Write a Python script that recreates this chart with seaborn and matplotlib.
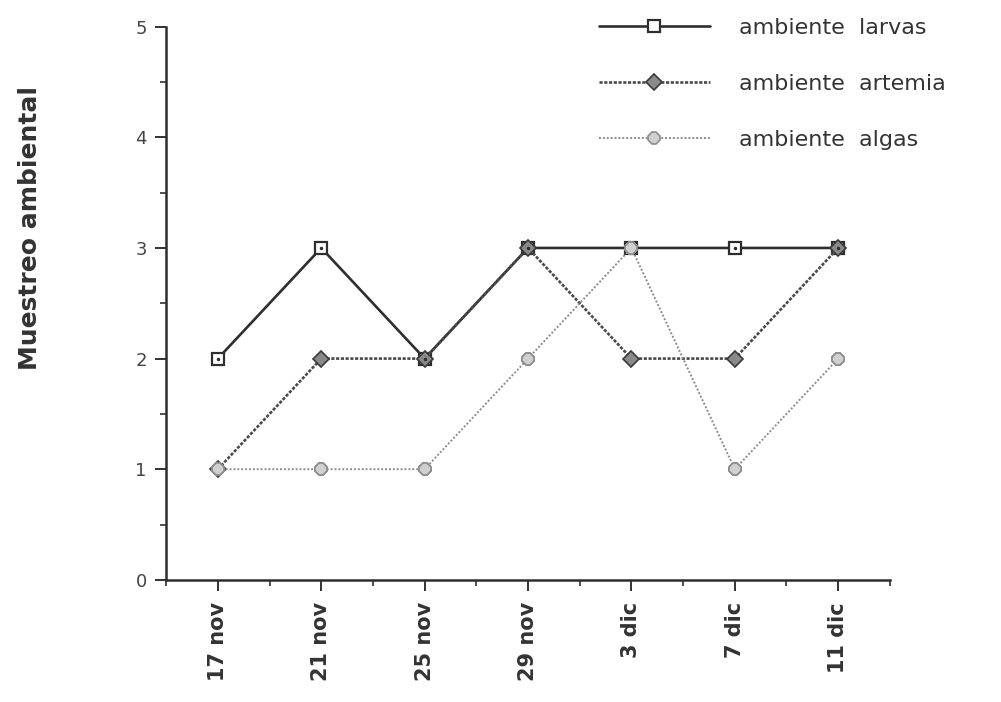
import numpy as np
import pandas as pd
import seaborn as sns
import matplotlib.pyplot as plt
from matplotlib.ticker import MultipleLocator, FixedLocator

# Fechas de muestreo y valores de cada serie
fechas = ['17 nov', '21 nov', '25 nov', '29 nov', '3 dic', '7 dic', '11 dic']
larvas = [2, 3, 2, 3, 3, 3, 3]
artemia = [1, 2, 2, 3, 2, 2, 3]
algas = [1, 1, 1, 2, 3, 1, 2]
series = ['ambiente  larvas', 'ambiente  artemia', 'ambiente  algas']

df = pd.DataFrame({'pos': range(len(fechas)),
                   series[0]: larvas, series[1]: artemia, series[2]: algas})
long = df.melt(id_vars='pos', var_name='serie', value_name='valor')

sns.set_style('ticks')
plt.rcParams['font.family'] = ['DejaVu Sans']

fig = plt.figure(figsize=(10.01, 7.02), dpi=100)
ax = fig.add_axes([0.166, 0.174, 0.723, 0.788])

estilos = {
    series[0]: dict(color='#2e2e2e', lw=1.9, ls='-', marker='s', ms=9, mfc='white', mec='#2e2e2e', mew=1.6),
    series[1]: dict(color='#4a4a4a', lw=1.9, ls=(0, (1.2, 0.6)), marker='D', ms=8, mfc='#8a8a8a', mec='#3a3a3a', mew=1.2),
    series[2]: dict(color='#8c8c8c', lw=1.4, ls=(0, (1, 1)), marker='8', ms=9, mfc='#d0d0d0', mec='#8c8c8c', mew=1.2),
}

for s in series:
    st = estilos[s]
    sns.lineplot(data=long[long['serie'] == s], x='pos', y='valor', ax=ax,
                 label=s, color=st['color'], linewidth=st['lw'], linestyle=st['ls'],
                 marker=st['marker'], markersize=st['ms'], markerfacecolor=st['mfc'],
                 markeredgecolor=st['mec'], markeredgewidth=st['mew'], zorder=3)

# punto central de los cuadrados
ax.plot(df['pos'], df[series[0]], ls='none', marker='.', ms=3, color='#2e2e2e', zorder=3)
# repintar algas encima
st = estilos[series[2]]
ax.plot(df['pos'], df[series[2]], ls='none', marker=st['marker'], ms=st['ms'],
        mfc=st['mfc'], mec=st['mec'], mew=st['mew'], zorder=4)

ax.set_xlim(-0.5, len(fechas) - 0.5)
ax.set_ylim(0, 5)
ax.xaxis.set_major_locator(FixedLocator(range(len(fechas))))
ax.xaxis.set_minor_locator(MultipleLocator(0.5))
ax.yaxis.set_major_locator(MultipleLocator(1))
ax.yaxis.set_minor_locator(MultipleLocator(0.5))
ax.set_xticklabels(fechas, rotation=90, fontsize=15, fontweight='bold', color='#333333', va='top')
ax.tick_params(axis='y', labelsize=13, labelcolor='#444444', pad=6)
ax.tick_params(which='major', length=8, width=1.4, color='#333333')
ax.tick_params(which='minor', length=4, width=1.2, color='#333333')
ax.tick_params(axis='x', pad=8)
for sp in ['left', 'bottom']:
    ax.spines[sp].set_linewidth(1.8)
    ax.spines[sp].set_color('#2e2e2e')
sns.despine(ax=ax)
ax.set_xlabel('')
ax.set_ylabel('')

fig.text(0.03, 0.675, 'Muestreo ambiental', rotation=90, ha='center', va='center',
         fontsize=18, fontweight='bold', color='#333333')

ax.legend(loc='upper left', bbox_to_anchor=(0.587, 0.99), bbox_transform=fig.transFigure,
          frameon=False, fontsize=16, borderpad=0, handlelength=5.0, handletextpad=1.3,
          labelspacing=1.62, labelcolor='#333333')

fig.savefig('out.png', dpi=100)
